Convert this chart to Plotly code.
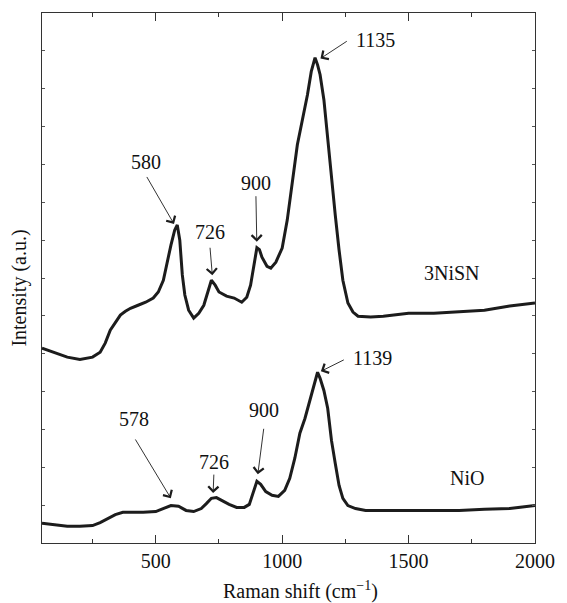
import numpy as np
import plotly.graph_objects as go

# Raman spectra (wavenumber in cm^-1, intensity in arbitrary offset units)
wn_3nisn = [50, 100, 150, 200, 250, 280, 300, 320, 340, 360, 380, 400, 430, 460, 490,
            510, 530, 545, 560, 575, 585, 595, 605, 615, 630, 650, 670, 690, 705, 720,
            735, 750, 780, 810, 840, 860, 875, 890, 900, 910, 920, 940, 955, 975, 1000,
            1020, 1040, 1060, 1080, 1100, 1115, 1130, 1140, 1150, 1165, 1180, 1195, 1210,
            1225, 1240, 1260, 1280, 1300, 1350, 1400, 1500, 1600, 1700, 1800, 1900, 2000]
int_3nisn = [5.15, 5.04, 4.91, 4.85, 4.91, 5.04, 5.28, 5.62, 5.83, 6.02, 6.12, 6.20, 6.28, 6.36, 6.47,
             6.63, 6.94, 7.42, 7.87, 8.27, 8.40, 8.00, 7.08, 6.55, 6.15, 5.94, 6.07, 6.28, 6.63, 6.94,
             6.81, 6.63, 6.52, 6.47, 6.36, 6.49, 6.81, 7.34, 7.80, 7.75, 7.55, 7.31, 7.26, 7.42, 7.79,
             8.53, 9.59, 10.52, 11.18, 11.84, 12.45, 12.82, 12.63, 12.37, 11.71, 10.65, 9.59, 8.66,
             7.74, 6.94, 6.34, 6.10, 5.99, 5.97, 5.99, 6.07, 6.07, 6.10, 6.15, 6.26, 6.34]

wn_nio = [50, 100, 150, 200, 250, 280, 310, 340, 370, 400, 450, 500, 530, 560, 590, 620,
          650, 680, 700, 720, 740, 760, 790, 820, 850, 870, 885, 900, 915, 935, 960, 985,
          1010, 1030, 1050, 1070, 1090, 1110, 1125, 1140, 1150, 1165, 1180, 1195, 1210,
          1225, 1240, 1260, 1290, 1330, 1400, 1500, 1600, 1700, 1800, 1900, 2000]
int_nio = [0.52, 0.49, 0.44, 0.44, 0.46, 0.54, 0.65, 0.75, 0.81, 0.81, 0.81, 0.83, 0.91, 0.99, 0.97, 0.86,
           0.83, 0.91, 1.04, 1.18, 1.20, 1.12, 1.02, 0.94, 0.94, 1.02, 1.34, 1.63, 1.55, 1.36, 1.26, 1.23,
           1.39, 1.71, 2.24, 2.90, 3.29, 3.77, 4.17, 4.51, 4.35, 4.03, 3.56, 2.71, 2.10,
           1.52, 1.18, 0.99, 0.91, 0.86, 0.86, 0.86, 0.86, 0.86, 0.89, 0.91, 0.99]

# Peak labels: wavenumber, arrow tail offset (px, px, standoff), text offset (px)
peaks_3nisn = [580, 726, 900, 1135]
peaks_nio = [578, 726, 900, 1139]
arrow_3nisn = [(-30, -52, 4), (-3, -36, 7), (-1, -53, 6), (32, -21, 5)]
text_3nisn = [(-30, 65), (-3, 50), (-1, 65), (59, 21)]
arrow_nio = [(-41, -68, 9), (1, -25, 5), (7, -54, 7), (28, -14, 4)]
text_nio = [(-41, 87), (1, 36), (7, 71), (55, 15)]

series_names = ["3NiSN", "NiO"]
series_label_pos = [(1670, 7.13), (1732, 1.73)]

FONT = "Liberation Serif"
FS = 20
INK = "#1c1c1c"
TXT = "#111"

fig = go.Figure()
for wn, inten in [(wn_3nisn, int_3nisn), (wn_nio, int_nio)]:
    fig.add_trace(go.Scatter(x=wn, y=inten, mode="lines",
                             line=dict(color=INK, width=3), showlegend=False,
                             hoverinfo="skip"))

annotations = []
for wn, inten, peaks, arrows, texts in [
        (wn_3nisn, int_3nisn, peaks_3nisn, arrow_3nisn, text_3nisn),
        (wn_nio, int_nio, peaks_nio, arrow_nio, text_nio)]:
    for p, (ax, ay, so), (tx, ty) in zip(peaks, arrows, texts):
        yp = float(np.interp(p, wn, inten))
        annotations.append(dict(x=p, y=yp, xref="x", yref="y", text="",
                                showarrow=True, ax=ax, ay=ay, axref="pixel", ayref="pixel",
                                arrowhead=4, arrowsize=2.2, arrowwidth=0.9,
                                arrowcolor=INK, standoff=so))
        annotations.append(dict(x=p, y=yp, xref="x", yref="y", text=str(p),
                                showarrow=False, xshift=tx, yshift=ty,
                                font=dict(family=FONT, size=FS, color=TXT)))

for name, (lx, ly) in zip(series_names, series_label_pos):
    annotations.append(dict(x=lx, y=ly, xref="x", yref="y", text=name, showarrow=False,
                            font=dict(family=FONT, size=FS, color=TXT)))

# Axis titles
annotations.append(dict(x=0.524, y=0, xref="paper", yref="paper",
                        xanchor="center", yanchor="middle", yshift=-47,
                        text="Raman shift (cm<sup>\u22121</sup>)", showarrow=False,
                        font=dict(family=FONT, size=FS, color=TXT)))
annotations.append(dict(x=0, y=0.48, xref="paper", yref="paper",
                        xanchor="center", yanchor="middle", xshift=-22,
                        text="Intensity (a.u.)", textangle=-90, showarrow=False,
                        font=dict(family=FONT, size=FS, color=TXT)))

fig.update_layout(
    width=567, height=603,
    margin=dict(l=42, r=23, t=13, b=60),
    paper_bgcolor="white", plot_bgcolor="white",
    annotations=annotations,
    font=dict(family=FONT, size=FS, color=TXT),
)
fig.update_xaxes(range=[50, 2000], tickvals=[500, 1000, 1500, 2000],
                 ticks="inside", ticklen=8, tickwidth=1.2, tickcolor="#333",
                 minor=dict(tickvals=[250, 750, 1250, 1750], ticks="inside",
                            ticklen=4, tickwidth=1.2, tickcolor="#333"),
                 showline=True, linecolor="#333", linewidth=1.3, mirror="allticks",
                 showgrid=False, zeroline=False,
                 tickfont=dict(family=FONT, size=FS, color=TXT))
fig.update_yaxes(range=[0, 14], dtick=1, tick0=0, ticks="inside", ticklen=3,
                 tickwidth=1, tickcolor="#555", showticklabels=False,
                 showline=True, linecolor="#333", linewidth=1.3, mirror="allticks",
                 showgrid=False, zeroline=False)

fig.write_html("out.html")
